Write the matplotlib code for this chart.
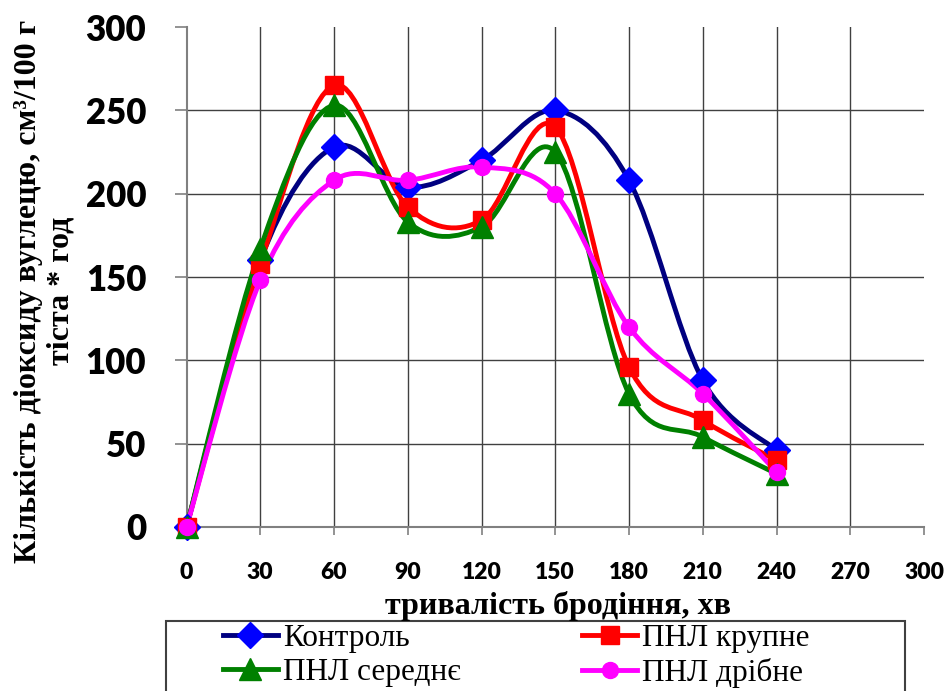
import numpy as np
import matplotlib
matplotlib.use("Agg")
import matplotlib.pyplot as plt
from matplotlib.path import Path
from matplotlib.patches import PathPatch, Rectangle
from matplotlib.lines import Line2D

# fermentation time, min
minutes = [0, 30, 60, 90, 120, 150, 180, 210, 240]
control = [0, 160, 228, 204, 220, 250, 208, 88, 46]
coarse = [0, 158, 265, 192, 184, 240, 96, 64, 40]
medium = [0, 167, 253, 183, 180, 225, 80, 54, 32]
fine = [0, 148, 208, 208, 216, 200, 120, 80, 33]

labels = ["Контроль", "ПНЛ крупне", "ПНЛ середнє", "ПНЛ дрібне"]
xticks = [0, 30, 60, 90, 120, 150, 180, 210, 240, 270, 300]
yticks = [0, 50, 100, 150, 200, 250, 300]

STYLES = [
    # line colour, marker, marker colour, marker size
    ("#000080", "D", "#0000FF", 13),
    ("#FF0000", "s", "#FF0000", 13),
    ("#008000", "^", "#008000", 15.5),
    ("#FF00FF", "o", "#FF00FF", 11.5),
]


def smooth_path(xs, ys):
    # excel-like smoothed line: cubic bezier with catmull-rom tangents
    pts = np.column_stack([xs, ys]).astype(float)
    ext = np.vstack([pts[0], pts, pts[-1]])
    verts, codes = [pts[0]], [Path.MOVETO]
    for i in range(len(pts) - 1):
        p0, p1, p2, p3 = ext[i], ext[i + 1], ext[i + 2], ext[i + 3]
        verts += [p1 + (p2 - p0) / 6, p2 - (p3 - p1) / 6, p2]
        codes += [Path.CURVE4] * 3
    return Path(verts, codes)


W, H = 948, 691
fig = plt.figure(figsize=(W / 100, H / 100), dpi=100)
ax = fig.add_axes([186.5 / W, 1 - 527 / H, (924 - 186.5) / W, 500 / H])
ax.set_xlim(0, 300)
ax.set_ylim(0, 300)

grid_kw = dict(color="#404040", lw=1.0, zorder=0)
for x in xticks[1:-1]:
    ax.axvline(x, **grid_kw)
for y in yticks[1:-1]:
    ax.axhline(y, **grid_kw)

handles = []
for ys, (lc, mk, mc, ms) in zip([control, coarse, medium, fine], STYLES):
    ax.add_patch(PathPatch(smooth_path(minutes, ys), fill=False, ec=lc,
                           lw=3.5, capstyle="round", joinstyle="round",
                           zorder=3, clip_on=False))
    ax.plot(minutes, ys, linestyle="none", marker=mk, ms=ms, mfc=mc, mec=mc,
            zorder=4, clip_on=False)
    handles.append(Line2D([], [], color=lc, lw=3.5, marker=mk, ms=ms,
                          mfc=mc, mec=mc))

for s in ["top", "right"]:
    ax.spines[s].set_visible(False)
for s in ["left", "bottom"]:
    ax.spines[s].set_color("#808080")
    ax.spines[s].set_linewidth(1.5)

tick_font = dict(family="Lato", weight="heavy")
ax.set_xticks(xticks)
ax.set_xticklabels([str(v) for v in xticks], fontsize=16.5, **tick_font)
ax.set_yticks(yticks)
ax.set_yticklabels([str(v) for v in yticks], fontsize=25, **tick_font)
ax.tick_params(axis="x", direction="out", length=6, width=1.2,
               color="#808080", pad=19)
ax.tick_params(axis="y", direction="out", length=9, width=1.2,
               color="#808080", pad=20)

serif = "Liberation Serif"
fig.text(558 / W, 1 - 606 / H, "тривалість бродіння, хв", family=serif,
         weight="bold", fontsize=23, ha="center", va="center")
fig.text(45 / W, 1 - 291 / H,
         "Кількість діоксиду вуглецю, см³/100 г\nтіста * год",
         family=serif, weight="bold", fontsize=23, rotation=90,
         ha="center", va="center", multialignment="center", linespacing=1.15)

fig.patches.append(Rectangle((166 / W, -0.05), (905 - 166) / W,
                             (1 - 621 / H) + 0.05, transform=fig.transFigure,
                             fill=False, ec="#404040", lw=1.5))
# matplotlib fills legend columns first, so order entries to read row-wise
order = [0, 2, 1, 3]
fig.legend([handles[i] for i in order], [labels[i] for i in order], ncol=2,
           loc="upper left", bbox_to_anchor=(223 / W, 1 - 624 / H),
           frameon=False, prop=dict(family=serif, size=22.5),
           handlelength=1.75, handletextpad=0.16, columnspacing=3.9,
           labelspacing=0.17, borderpad=0.0, borderaxespad=0.0)

fig.savefig("out.png", dpi=100)
